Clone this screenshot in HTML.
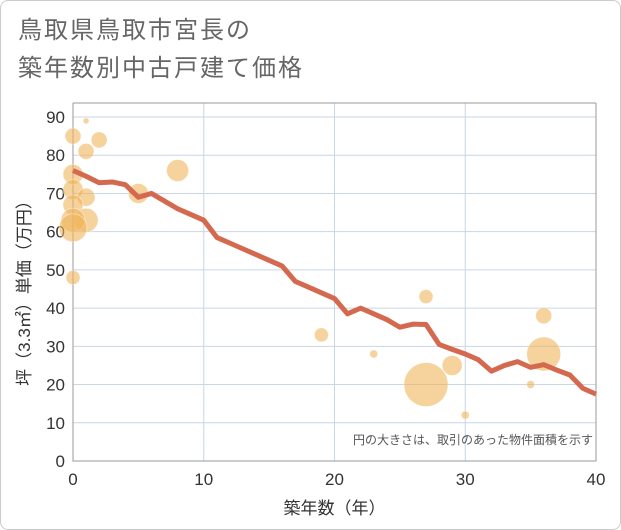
<!DOCTYPE html>
<html><head><meta charset="utf-8"><style>
body{margin:0;background:#fff;}
#wrap{position:relative;width:619px;height:528px;border:1px solid #ccc;border-radius:8px;overflow:hidden;font-family:"Liberation Sans","Noto Sans CJK JP",sans-serif;}
.t{position:absolute;left:17px;font-size:24px;line-height:28px;color:#666;letter-spacing:2px;}
</style></head><body>
<div id="wrap">
<div class="t" style="top:16px">鳥取県鳥取市宮長の</div>
<div class="t" style="top:54px">築年数別中古戸建て価格</div>
<svg id="c" width="621" height="530" style="position:absolute;left:-1px;top:-1px"></svg>
</div>
<script>
const xTicks=[0,10,20,30,40];
const yTicks=[0,10,20,30,40,50,60,70,80,90];
const lineYears=[0,1,2,3,4,5,6,7,8,9,10,11,12,13,14,15,16,17,18,19,20,21,22,23,24,25,26,27,28,29,30,31,32,33,34,35,36,37,38,39,40];
const linePrices=[76,74.5,72.8,73,72.3,69,70,68,66,64.5,63,58.5,57,55.5,54,52.5,51,47,45.5,44,42.5,38.5,40,38.5,37,35,35.8,35.7,30.5,29.2,28,26.5,23.5,25,26,24.5,25.2,23.8,22.5,19,17.5];
const bubbleYears=[0,1,2,1,0,0,1,0,1,0,0,5,8,0,19,23,27,27,29,30,35,36,36];
const bubblePrices=[85,89,84,81,75,71,69,67,63,63,61,70,76,48,33,28,43,20,25,12,20,38,28];
const bubbleSizes=[8,3,8,8,10,10,9,10,12,12,14,10,11,7,7,4,7,22,10,4,4,8,17];
const X0=73,X1=596,Y0=461,Y1=117;
const sx=v=>X0+(v-0)/40*(X1-X0);
const sy=v=>Y0-(v/90)*(Y0-Y1);
const svg=document.getElementById('c');
const NS='http://www.w3.org/2000/svg';
function mk(t,a){const e=document.createElementNS(NS,t);for(const k in a)e.setAttribute(k,a[k]);svg.appendChild(e);return e;}
yTicks.forEach(v=>{
 const g=mk('line',{x1:X0,x2:X1,y1:sy(v),y2:sy(v),stroke:'#c8d6e6','stroke-width':1});
 
 
 const t=mk('text',{x:X0-8,y:sy(v)+6,'text-anchor':'end','font-size':17,fill:'#333','font-family':'Liberation Sans, sans-serif'});
 t.textContent=v;
 
 
});
xTicks.forEach(v=>{
 const g=mk('line',{x1:sx(v),x2:sx(v),y1:Y1-14,y2:Y0,stroke:'#c8d6e6','stroke-width':1});
 
 
 const t=mk('text',{x:sx(v),y:Y0+24,'text-anchor':'middle','font-size':17,fill:'#333','font-family':'Liberation Sans, sans-serif'});
 t.textContent=v;
 
 
});
const ax=mk('polyline',{points:`${X0},${Y1-14} ${X0},${Y0} ${X1},${Y0} ${X1},${Y1-14}`,fill:'none',stroke:'#999','stroke-width':1});


const frameTop=mk('line',{x1:X0,x2:X1,y1:Y1-14,y2:Y1-14,stroke:'#999','stroke-width':1});


bubbleYears.forEach((y,i)=>{
 const c=mk('circle',{cx:sx(y),cy:sy(bubblePrices[i]),r:bubbleSizes[i],fill:'rgba(240,180,90,0.6)',stroke:'rgba(255,255,255,0.5)','stroke-width':0.8});
 
 
});
const pl=mk('polyline',{points:lineYears.map((y,i)=>sx(y)+','+sy(linePrices[i])).join(' '),fill:'none',stroke:'#d4694f','stroke-width':5,'stroke-linejoin':'round'});


const note=mk('text',{x:593,y:444,'text-anchor':'end','font-size':12,fill:'#555','font-family':'Liberation Sans, Noto Sans CJK JP, sans-serif'});
note.textContent='円の大きさは、取引のあった物件面積を示す';


const xt=mk('text',{x:(X0+X1)/2,y:514,'text-anchor':'middle','font-size':17,fill:'#333','font-family':'Liberation Sans, Noto Sans CJK JP, sans-serif'});
xt.textContent='築年数（年）';


const yt=mk('text',{x:0,y:0,'text-anchor':'middle','font-size':17,fill:'#333',transform:`translate(30,${(Y0+Y1)/2}) rotate(-90)`,'font-family':'Liberation Sans, Noto Sans CJK JP, sans-serif'});
yt.textContent='坪（3.3㎡）単価（万円）';


</script>
</body></html>
